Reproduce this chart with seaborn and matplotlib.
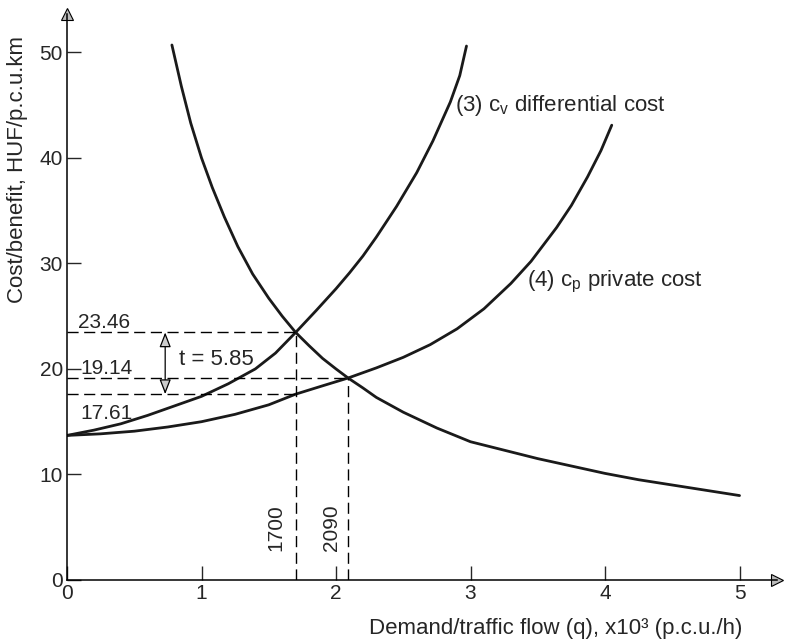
import numpy as np
import pandas as pd
import matplotlib
matplotlib.use("Agg")
import matplotlib.pyplot as plt
import seaborn as sns

# values
# (3) differential cost c_v
q_cv = [0, 0.2, 0.4, 0.6, 0.8, 1.0, 1.2, 1.4, 1.55, 1.7, 1.85, 2.0, 2.1, 2.2, 2.3,
        2.45, 2.6, 2.72, 2.85, 2.92, 2.97]
cv = [13.7, 14.2, 14.8, 15.6, 16.5, 17.4, 18.6, 20.0, 21.5, 23.46, 25.5, 27.6, 29.1,
      30.7, 32.5, 35.4, 38.6, 41.6, 45.3, 47.8, 50.6]

# (4) private cost c_p
q_cp = [0, 0.25, 0.5, 0.75, 1.0, 1.25, 1.5, 1.7, 1.9, 2.09, 2.3, 2.5, 2.7, 2.9, 3.1,
        3.3, 3.45, 3.64, 3.75, 3.87, 3.97, 4.05]
cp = [13.7, 13.85, 14.1, 14.5, 15.0, 15.7, 16.6, 17.61, 18.4, 19.14, 20.1, 21.1, 22.3,
      23.8, 25.7, 28.1, 30.2, 33.4, 35.5, 38.2, 40.7, 43.1]

# demand / benefit curve
q_d = [0.78, 0.85, 0.92, 1.0, 1.08, 1.17, 1.27, 1.38, 1.5, 1.6, 1.7, 1.8, 1.9, 2.0,
       2.09, 2.2, 2.3, 2.5, 2.75, 3.0, 3.25, 3.5, 3.75, 4.0, 4.25, 4.5, 4.75, 5.0]
d = [50.7, 46.8, 43.3, 40.0, 37.2, 34.4, 31.6, 29.0, 26.7, 25.0, 23.46, 22.2, 21.0,
     20.0, 19.14, 18.2, 17.3, 15.9, 14.4, 13.1, 12.3, 11.5, 10.8, 10.1, 9.5, 9.0,
     8.5, 8.0]

# equilibrium points
q_opt, c_opt = 1.7, 23.46
q_eq, c_eq = 2.09, 19.14
cp_opt = 17.61

x_ticks = [0, 1, 2, 3, 4, 5]
y_ticks = [0, 10, 20, 30, 40, 50]

sns.set_style("white")
plt.rcParams["font.family"] = ["Liberation Sans", "DejaVu Sans"]
plt.rcParams["mathtext.fontset"] = "custom"
plt.rcParams["mathtext.rm"] = "Liberation Sans"
plt.rcParams["mathtext.it"] = "Liberation Sans"

fig = plt.figure(figsize=(7.9, 6.42), dpi=100)
ax = fig.add_axes([0.0848, 0.0966, 0.899, 0.881])

curves = [
    pd.DataFrame({"q": q_cv, "c": cv}),
    pd.DataFrame({"q": q_cp, "c": cp}),
    pd.DataFrame({"q": q_d, "c": d}),
]
for df in curves:
    sns.lineplot(data=df, x="q", y="c", ax=ax, color="#1a1a1a", linewidth=2.0,
                 sort=False, estimator=None)

dash = dict(color="black", linewidth=1.0, dashes=(8, 4))
ax.plot([0, q_opt], [c_opt, c_opt], **dash)
ax.plot([0, q_opt], [cp_opt, cp_opt], **dash)
ax.plot([0, q_eq], [c_eq, c_eq], **dash)
ax.plot([q_opt, q_opt], [0, c_opt], **dash)
ax.plot([q_eq, q_eq], [0, c_eq], **dash)

# toll arrow
ax.annotate("", xy=(0.73, c_opt), xytext=(0.73, cp_opt),
            arrowprops=dict(arrowstyle="<|-|>,head_length=0.9,head_width=0.35",
                            fc="#cccccc", ec="black", lw=0.9, shrinkA=0, shrinkB=0))

fs = 15
ax.text(0.08, 24.4, "23.46", fontsize=fs, va="center")
ax.text(0.1, 20.0, "19.14", fontsize=fs, va="center")
ax.text(0.1, 15.8, "17.61", fontsize=fs, va="center")
ax.text(0.83, 20.9, "t = 5.85", fontsize=16, va="center")
ax.text(1.555, 5.0, "1700", fontsize=fs, rotation=90, ha="center", va="center")
ax.text(1.97, 5.0, "2090", fontsize=fs, rotation=90, ha="center", va="center")
ax.text(2.885, 45.0, r"(3) c$_\mathregular{v}$ differential cost", fontsize=16, va="center")
ax.text(3.42, 28.2, r"(4) c$_\mathregular{p}$ private cost", fontsize=16, va="center")

ax.text(5.02, -4.6, "Demand/traffic flow (q), x10³ (p.c.u./h)", fontsize=16,
        ha="right", va="center", clip_on=False)
ax.text(-0.37, 38.9, "Cost/benefit, HUF/p.c.u.km", fontsize=16, rotation=90,
        ha="center", va="center", clip_on=False)

ax.set_xlim(0, 5.28)
ax.set_ylim(0, 53.6)
ax.set_xticks(x_ticks)
ax.set_yticks(y_ticks)
ax.set_xticklabels([str(t) for t in x_ticks], fontsize=fs)
ax.set_yticklabels([str(t) for t in y_ticks], fontsize=fs)
ax.tick_params(direction="in", length=10, width=1.0, pad=3, left=True, bottom=True)
ax.set_xlabel("")
ax.set_ylabel("")
sns.despine(ax=ax)
for s in ["left", "bottom"]:
    ax.spines[s].set_linewidth(1.1)
    ax.spines[s].set_color("black")

# axis arrow heads
ax.plot([0], [53.6], marker="^", markersize=9, color="#bbbbbb", mec="black",
        mew=0.8, clip_on=False)
ax.plot([5.28], [0], marker=">", markersize=9, color="#bbbbbb", mec="black",
        mew=0.8, clip_on=False)

fig.savefig("out.png", dpi=100)
